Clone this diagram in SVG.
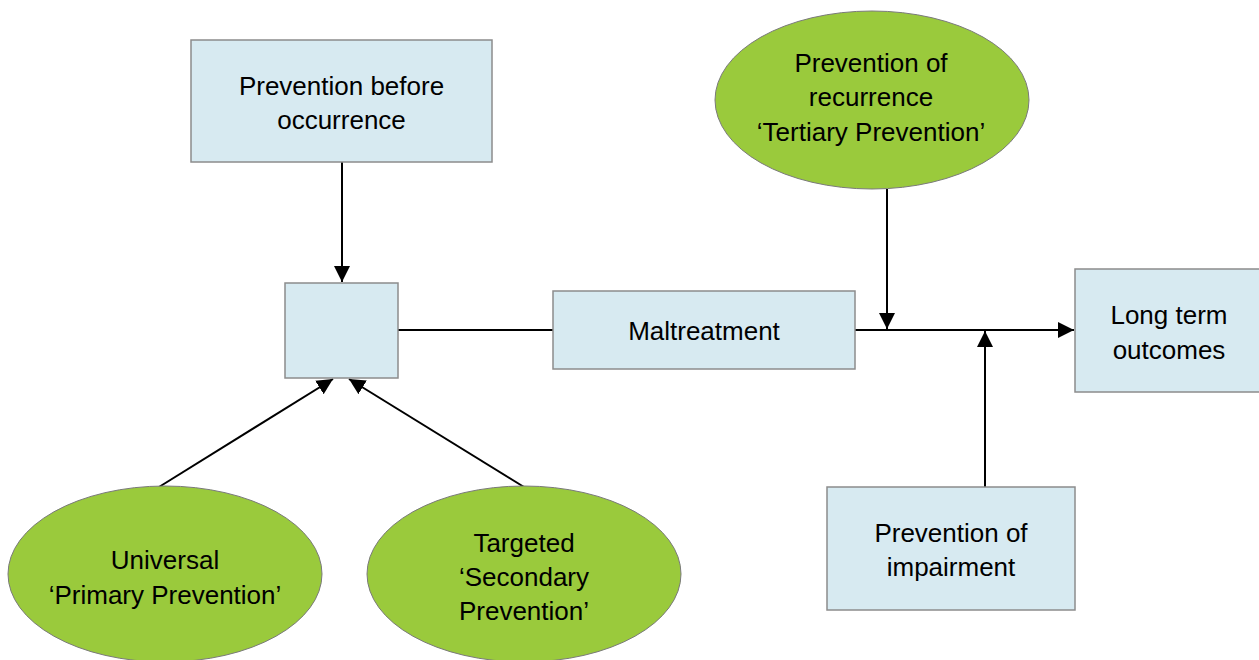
<svg xmlns="http://www.w3.org/2000/svg" width="1259" height="660" viewBox="0 0 1259 660">
<style>
.box{fill:#d7eaf1;stroke:#8c8c8c;stroke-width:1.5}
.ell{fill:#9aca3c;stroke:#7a7a7a;stroke-width:1}
.t{font-family:"Liberation Sans",Arial,sans-serif;font-size:26px;fill:#000;text-anchor:middle;dominant-baseline:central}
.c{stroke:#000;stroke-width:2;fill:none}
</style>
<defs>
<marker id="ah" viewBox="0 0 10 10" refX="10" refY="5" markerWidth="8" markerHeight="8" markerUnits="strokeWidth" orient="auto">
<path d="M0,0 L10,5 L0,10 Z" fill="#000"/>
</marker>
</defs>
<rect width="1259" height="660" fill="#fff"/>
<g id="connectors">
<line class="c" x1="342" y1="162" x2="342" y2="282" marker-end="url(#ah)"/>
<line class="c" x1="398" y1="330" x2="553" y2="330"/>
<line class="c" x1="855" y1="330" x2="1074" y2="330" marker-end="url(#ah)"/>
<line class="c" x1="887" y1="189" x2="887" y2="329" marker-end="url(#ah)"/>
<line class="c" x1="985" y1="487" x2="985" y2="331" marker-end="url(#ah)"/>
<line class="c" x1="159" y1="487" x2="333" y2="379" marker-end="url(#ah)"/>
<line class="c" x1="524" y1="487" x2="349" y2="379" marker-end="url(#ah)"/>
</g>
<g id="prevention-before">
<rect class="box" x="191" y="40" width="301" height="122"/>
<text class="t" x="341.5" y="86">Prevention before</text>
<text class="t" x="341.5" y="120">occurrence</text>
</g>
<g id="small-box">
<rect class="box" x="285" y="283" width="113" height="95"/>
</g>
<g id="maltreatment">
<rect class="box" x="553" y="291" width="302" height="78"/>
<text class="t" x="704" y="331">Maltreatment</text>
</g>
<g id="long-term">
<rect class="box" x="1075" y="269" width="190" height="123"/>
<text class="t" x="1169" y="315">Long term</text>
<text class="t" x="1169" y="350">outcomes</text>
</g>
<g id="tertiary">
<ellipse class="ell" cx="872" cy="100" rx="157" ry="89"/>
<text class="t" x="871" y="63">Prevention of</text>
<text class="t" x="871" y="97">recurrence</text>
<text class="t" x="871" y="132">‘Tertiary Prevention’</text>
</g>
<g id="impairment">
<rect class="box" x="827" y="487" width="248" height="123"/>
<text class="t" x="951" y="533">Prevention of</text>
<text class="t" x="951" y="567">impairment</text>
</g>
<g id="universal">
<ellipse class="ell" cx="165" cy="574" rx="157" ry="88"/>
<text class="t" x="165" y="560">Universal</text>
<text class="t" x="165" y="595">‘Primary Prevention’</text>
</g>
<g id="targeted">
<ellipse class="ell" cx="524" cy="574" rx="157" ry="88"/>
<text class="t" x="524" y="543">Targeted</text>
<text class="t" x="524" y="577">‘Secondary</text>
<text class="t" x="524" y="611">Prevention’</text>
</g>
</svg>
